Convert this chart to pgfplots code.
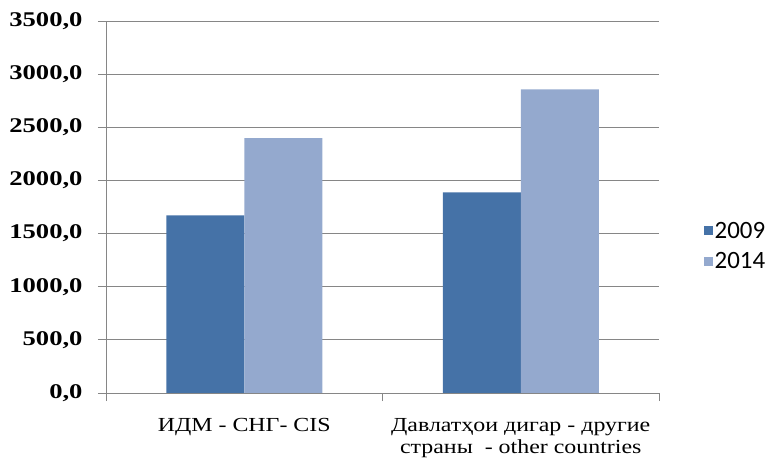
\documentclass[border=0pt]{standalone}
\usepackage{pgfplots}
\pgfplotsset{compat=1.18}
\usepackage{fontspec}
\setmainfont{Liberation Serif}
\newfontfamily\lblfont[FakeStretch=1.2]{Liberation Serif}
\newfontfamily\tickfont[FakeStretch=1.27]{Liberation Serif}
\newfontfamily\legfont{Carlito}
\definecolor{cA}{HTML}{4572A7}
\definecolor{cB}{HTML}{94A9CE}
\definecolor{gridc}{HTML}{868686}
\begin{document}
\begin{tikzpicture}
\path[use as bounding box] (0,0) rectangle (774bp,460bp);
\begin{axis}[
  at={(106bp,67bp)}, anchor=south west,
  scale only axis, width=553bp, height=372bp,
  xmin=-0.5, xmax=1.5, ymin=0, ymax=3500,
  axis lines*=left,
  axis line style={gridc, -, line width=0.9bp},
  ybar=0pt, bar width=78bp,
  ytick={0,500,1000,1500,2000,2500,3000,3500},
  yticklabels={{0,0},{500,0},{1000,0},{1500,0},{2000,0},{2500,0},{3000,0},{3500,0}},
  ymajorgrids, grid style={gridc, line width=0.9bp},
  tick align=outside, major tick length=8bp,
  tick style={gridc, line width=0.9bp},
  yticklabel style={font=\tickfont\fontsize{21}{21}\selectfont\bfseries, xshift=-12bp},
  xtick={-0.5,0.5,1.5}, xticklabels={},
  extra x ticks={0,1},
  extra x tick labels={{ИДМ - СНГ- CIS},{Давлатҳои дигар - другие\\страны \ - other countries}},
  extra x tick style={major tick length=0pt, grid=none,
     tick label style={align=center, yshift=-22bp, font=\lblfont\fontsize{20}{22}\selectfont}},
  legend style={at={(1.075,0.395)}, anchor=west, draw=none, fill=none,
     font=\legfont\fontsize{25}{25}\selectfont, row sep=9bp,
     legend cell align=left},
]
\addplot[fill=cA, draw=none, legend image code/.code={\fill[cA] (0bp,-4.5bp) rectangle (9bp,4.5bp);}] coordinates {(0,1672) (1,1888)};
\addplot[fill=cB, draw=none, legend image code/.code={\fill[cB] (0bp,-4.5bp) rectangle (9bp,4.5bp);}] coordinates {(0,2399) (1,2857)};
\legend{2009,2014}
\end{axis}
\end{tikzpicture}
\end{document}
